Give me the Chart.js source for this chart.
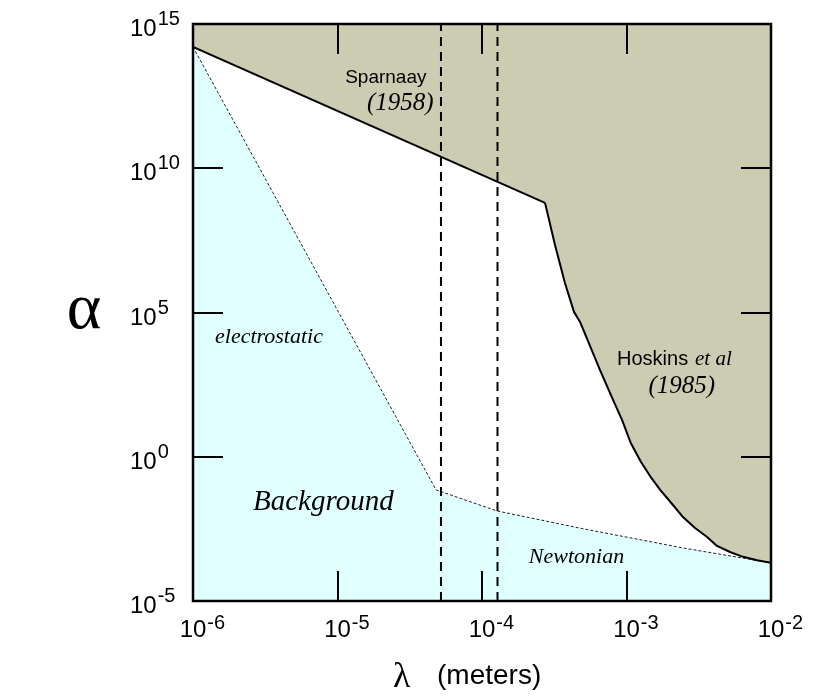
<!DOCTYPE html>
<html>
<head>
<meta charset="utf-8">
<script src="https://cdn.jsdelivr.net/npm/chart.js@4/dist/chart.umd.min.js"></script>
<style>
  html, body { margin: 0; padding: 0; background: #ffffff; }
  #wrap { width: 830px; height: 699px; }
</style>
</head>
<body>
<div id="wrap"><canvas id="c" width="830" height="699"></canvas></div>
<script>
// ---- Data ----
// Sparnaay (1958) limit: straight line
const sparnaayLambda = [1e-6, 2.73e-4];
const sparnaayAlpha  = [1.6e14, 6.3e8];
// Hoskins et al (1985) limit curve
const hoskinsLambda = [2.73e-4, 3.20e-4, 3.75e-4, 4.33e-4, 4.77e-4, 6.56e-4, 8.07e-4, 9.31e-4, 1.07e-3, 1.26e-3, 1.46e-3, 1.71e-3, 2.07e-3, 2.46e-3, 2.98e-3, 3.61e-3, 4.23e-3, 5.20e-3, 6.40e-3, 8.0e-3, 1e-2];
const hoskinsAlpha  = [6.3e8, 2.2e7, 1.05e6, 1.05e5, 4.7e4, 1.0e3, 93, 19, 3.0, 0.66, 0.21, 0.071, 0.023, 8.1e-3, 3.4e-3, 1.66e-3, 8.1e-4, 5.0e-4, 3.4e-4, 2.6e-4, 2.1e-4];
// Background boundary: electrostatic then Newtonian
const bgLambda = [1e-6, 4.81e-5, 1.27e-4, 5.0e-4, 2.46e-3, 1e-2];
const bgAlpha  = [1.6e14, 0.071, 0.0132, 3.2e-3, 6.9e-4, 2.1e-4];
// Vertical dashed markers
const markerLambda = [5.2e-5, 1.28e-4];
// Axes
const xTickExponents = [-6, -5, -4, -3, -2];
const yTickExponents = [15, 10, 5, 0, -5];
const xMin = 1e-6, xMax = 1e-2, yMin = 1e-5, yMax = 1e15;

// Text annotations (data coordinates)
const SANS = '"Liberation Sans", Arial, sans-serif';
const SERIF = '"Liberation Serif", "Times New Roman", serif';
const notes = [
  { text: 'Sparnaay', x: 1.13e-5, y: 9.0e12, font: '19px ' + SANS },
  { text: '(1958)', x: 1.60e-5, y: 1.05e12, font: 'italic 25px ' + SERIF },
  { text: 'Hoskins', x: 8.6e-4, y: 1.5e3, font: '20px ' + SANS },
  { text: 'et al', x: 2.98e-3, y: 1.5e3, font: 'italic 21px ' + SERIF },
  { text: '(1985)', x: 1.42e-3, y: 162, font: 'italic 25px ' + SERIF },
  { text: 'electrostatic', x: 1.42e-6, y: 8.7e3, font: 'italic 22px ' + SERIF },
  { text: 'Background', x: 2.6e-6, y: 0.0141, font: 'italic 29px ' + SERIF },
  { text: 'Newtonian', x: 2.11e-4, y: 2.1e-4, font: 'italic 22px ' + SERIF }
];

const toPts = (xs, ys) => xs.map((v, i) => ({ x: v, y: ys[i] }));

const datasets = [
  {
    label: 'marker1',
    data: [{ x: markerLambda[0], y: yMin }, { x: markerLambda[0], y: yMax }],
    borderColor: '#000', borderWidth: 2, borderDash: [9, 6], fill: false, order: 0
  },
  {
    label: 'marker2',
    data: [{ x: markerLambda[1], y: yMin }, { x: markerLambda[1], y: yMax }],
    borderColor: '#000', borderWidth: 2, borderDash: [9, 6], fill: false, order: 0
  },
  {
    label: 'Sparnaay (1958)',
    data: toPts(sparnaayLambda, sparnaayAlpha),
    borderColor: '#000', borderWidth: 2, backgroundColor: 'rgb(204,204,179)', fill: 'end', order: 1
  },
  {
    label: 'Hoskins et al (1985)',
    data: toPts(hoskinsLambda, hoskinsAlpha),
    borderColor: '#000', borderWidth: 2, backgroundColor: 'rgb(204,204,179)', fill: 'end', order: 1,
    borderJoinStyle: 'round'
  },
  {
    label: 'Background',
    data: toPts(bgLambda, bgAlpha),
    borderColor: '#222', borderWidth: 1, borderDash: [3, 2], backgroundColor: 'rgb(224,255,255)', fill: 'start', order: 2
  }
];

function drawPow(ctx, base, exp, x, yBase, yExp, baseFont, expFont, align) {
  ctx.font = baseFont;
  const bw = ctx.measureText(base).width;
  const bx = align === 'centerBase' ? x - bw / 2 : x;
  ctx.textAlign = 'left';
  ctx.textBaseline = 'alphabetic';
  ctx.fillText(base, bx, yBase);
  ctx.font = expFont;
  ctx.fillText(exp, bx + bw + 1, yExp);
}

const decor = {
  id: 'decor',
  afterDraw(chart) {
    const { ctx, chartArea: a, scales } = chart;
    const sx = scales.x, sy = scales.y;
    ctx.save();
    ctx.fillStyle = '#000';
    ctx.strokeStyle = '#000';
    ctx.setLineDash([]);
    // inner ticks
    ctx.lineWidth = 2;
    const tl = 30;
    xTickExponents.forEach(e => {
      if (e === -6 || e === -2) return;
      const px = Math.round(sx.getPixelForValue(Math.pow(10, e)));
      ctx.beginPath();
      ctx.moveTo(px, a.top); ctx.lineTo(px, a.top + tl);
      ctx.moveTo(px, a.bottom); ctx.lineTo(px, a.bottom - tl);
      ctx.stroke();
    });
    yTickExponents.forEach(e => {
      if (e === 15 || e === -5) return;
      const py = Math.round(sy.getPixelForValue(Math.pow(10, e)));
      ctx.beginPath();
      ctx.moveTo(a.left, py); ctx.lineTo(a.left + tl, py);
      ctx.moveTo(a.right, py); ctx.lineTo(a.right - tl, py);
      ctx.stroke();
    });
    // frame
    ctx.lineWidth = 2.5;
    ctx.strokeRect(a.left, a.top, a.right - a.left, a.bottom - a.top);

    // tick labels
    const baseFont = '24px ' + SANS;
    const expFont = '20px ' + SANS;
    xTickExponents.forEach(e => {
      const px = sx.getPixelForValue(Math.pow(10, e));
      drawPow(ctx, '10', String(e), px, a.bottom + 36, a.bottom + 28, baseFont, expFont, 'centerBase');
    });
    yTickExponents.forEach(e => {
      const py = sy.getPixelForValue(Math.pow(10, e));
      drawPow(ctx, '10', String(e), a.left - 63, py + 12, py + 1, baseFont, expFont, 'left');
    });

    // axis titles
    ctx.textAlign = 'center';
    ctx.textBaseline = 'alphabetic';
    ctx.font = '66px ' + SERIF;
    ctx.fillText('\u03B1', 84, (a.top + a.bottom) / 2 + 15);
    ctx.textAlign = 'left';
    ctx.font = '36px ' + SERIF;
    ctx.fillText('\u03BB', 393, a.bottom + 86);
    ctx.font = '28px ' + SANS;
    ctx.fillText('(meters)', 437, a.bottom + 83);

    // annotations
    notes.forEach(n => {
      ctx.font = n.font;
      ctx.textAlign = 'left';
      ctx.textBaseline = 'alphabetic';
      ctx.fillText(n.text, sx.getPixelForValue(n.x), sy.getPixelForValue(n.y));
    });
    ctx.restore();
  }
};

new Chart(document.getElementById('c'), {
  type: 'line',
  data: { datasets },
  options: {
    responsive: false,
    animation: false,
    devicePixelRatio: 1,
    layout: { padding: { left: 193, right: 59, top: 24, bottom: 98 } },
    elements: { point: { radius: 0 }, line: { tension: 0 } },
    plugins: { legend: { display: false }, tooltip: { enabled: false }, title: { display: false } },
    scales: {
      x: { type: 'logarithmic', min: xMin, max: xMax, display: false },
      y: { type: 'logarithmic', min: yMin, max: yMax, display: false }
    }
  },
  plugins: [decor]
});
</script>
</body>
</html>
